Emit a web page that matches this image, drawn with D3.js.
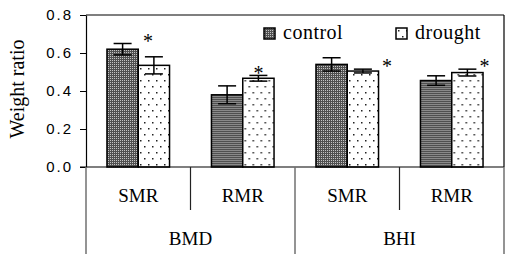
<!DOCTYPE html>
<html>
<head>
<meta charset="utf-8">
<script src="https://cdn.jsdelivr.net/npm/d3@7"></script>
<style>
  body { margin: 0; background: #fff; }
  svg { display: block; }
  .serif { font-family: "Liberation Serif", "Times New Roman", serif; fill: #000; }
  .tick text { font-family: "Liberation Sans", Arial, sans-serif; font-size: 15px; letter-spacing: 2px; fill: #000; }
</style>
</head>
<body>
<div id="chart"></div>
<script>
(function() {
  'use strict';

  // data
  var groups = ['BMD', 'BHI'];
  var categories = ['SMR', 'RMR', 'SMR', 'RMR'];
  var seriesNames = ['control', 'drought'];
  var controlValues = [0.62, 0.38, 0.54, 0.455];
  var controlErrors = [0.03, 0.047, 0.035, 0.025];
  var droughtValues = [0.535, 0.467, 0.505, 0.497];
  var droughtErrors = [0.045, 0.015, 0.01, 0.018];
  var starValues = [0.68, 0.51, 0.55, 0.55];
  var yTicks = [0, 0.2, 0.4, 0.6, 0.8];
  var yTitle = 'Weight ratio';

  var svgWidth = 506;
  var svgHeight = 254;
  var left = 86, right = 504, top = 15, bottom = 167;

  var svg = d3.select('#chart').append('svg')
      .attr('width', svgWidth)
      .attr('height', svgHeight);

  var defs = svg.append('defs');

  // control: dense dark checker
  var pc = defs.append('pattern').attr('id', 'pControl')
      .attr('patternUnits', 'userSpaceOnUse').attr('width', 2).attr('height', 2);
  pc.append('rect').attr('width', 2).attr('height', 2).attr('fill', '#505050');
  pc.append('rect').attr('width', 1).attr('height', 1).attr('fill', '#c4c4c4');

  // drought: white with sparse dots
  var pd = defs.append('pattern').attr('id', 'pDrought')
      .attr('patternUnits', 'userSpaceOnUse').attr('width', 8).attr('height', 12);
  pd.append('rect').attr('width', 8).attr('height', 12).attr('fill', '#fff');
  pd.append('rect').attr('x', 2).attr('y', 2).attr('width', 1.5).attr('height', 1.5).attr('fill', '#222');
  pd.append('rect').attr('x', 6).attr('y', 8).attr('width', 1.5).attr('height', 1.5).attr('fill', '#222');

  var fills = { control: 'url(#pControl)', drought: 'url(#pDrought)' };

  var idx = d3.range(categories.length);

  var x = d3.scaleBand().domain(idx).range([left, right]).paddingInner(0).paddingOuter(0);
  var xs = d3.scaleBand().domain(seriesNames).range([0, x.bandwidth()]).paddingInner(0).paddingOuter(0.67);
  var y = d3.scaleLinear().domain([0, 0.8]).range([bottom, top]);

  var rows = idx.map(function(i) {
    return {
      i: i,
      values: [
        { key: 'control', v: controlValues[i], e: controlErrors[i] },
        { key: 'drought', v: droughtValues[i], e: droughtErrors[i] }
      ]
    };
  });

  // frame: top and right border
  svg.append('line').attr('x1', left).attr('x2', right).attr('y1', top).attr('y2', top)
      .attr('stroke', '#000').attr('stroke-width', 1.2);
  svg.append('line').attr('x1', right).attr('x2', right).attr('y1', top).attr('y2', bottom)
      .attr('stroke', '#000').attr('stroke-width', 1.2);

  // bars
  var g = svg.selectAll('g.cat')
      .data(rows)
      .enter().append('g')
      .attr('class', 'cat')
      .attr('transform', function(d) { return 'translate(' + x(d.i) + ',0)'; });

  g.selectAll('rect')
      .data(function(d) { return d.values; })
      .enter().append('rect')
      .attr('x', function(d) { return xs(d.key); })
      .attr('y', function(d) { return y(d.v); })
      .attr('width', xs.bandwidth())
      .attr('height', function(d) { return y(0) - y(d.v); })
      .attr('fill', function(d) { return fills[d.key]; })
      .attr('stroke', '#000')
      .attr('stroke-width', 1.5);

  // error bars
  var capW = 18;
  var eb = g.selectAll('g.err')
      .data(function(d) { return d.values; })
      .enter().append('g')
      .attr('class', 'err')
      .attr('stroke', '#000')
      .attr('stroke-width', 1.5);
  eb.append('line')
      .attr('x1', function(d) { return xs(d.key) + xs.bandwidth() / 2; })
      .attr('x2', function(d) { return xs(d.key) + xs.bandwidth() / 2; })
      .attr('y1', function(d) { return y(d.v + d.e); })
      .attr('y2', function(d) { return y(d.v - d.e); });
  eb.append('line')
      .attr('x1', function(d) { return xs(d.key) + xs.bandwidth() / 2 - capW / 2; })
      .attr('x2', function(d) { return xs(d.key) + xs.bandwidth() / 2 + capW / 2; })
      .attr('y1', function(d) { return y(d.v + d.e); })
      .attr('y2', function(d) { return y(d.v + d.e); });
  eb.append('line')
      .attr('x1', function(d) { return xs(d.key) + xs.bandwidth() / 2 - capW / 2; })
      .attr('x2', function(d) { return xs(d.key) + xs.bandwidth() / 2 + capW / 2; })
      .attr('y1', function(d) { return y(d.v - d.e); })
      .attr('y2', function(d) { return y(d.v - d.e); });

  // significance stars, placed near the drought bar
  var starShift = [-6, 0, 24, 17];
  svg.selectAll('text.star')
      .data(idx)
      .enter().append('text')
      .attr('class', 'star serif')
      .attr('x', function(i) { return x(i) + xs('drought') + xs.bandwidth() / 2 + starShift[i]; })
      .attr('y', function(i) { return y(starValues[i]) + 10; })
      .attr('text-anchor', 'middle')
      .style('font-size', '20px')
      .text('*');

  // y axis
  var yAxis = d3.axisLeft(y)
      .tickValues(yTicks)
      .tickFormat(d3.format('.1f'))
      .tickSize(6)
      .tickSizeOuter(0)
      .tickPadding(7);
  var ya = svg.append('g')
      .attr('transform', 'translate(' + left + ',0)')
      .call(yAxis);
  ya.select('.domain').attr('stroke', '#000').attr('stroke-width', 1.2);
  ya.selectAll('.tick line').attr('stroke', '#000');

  svg.append('text')
      .attr('class', 'serif')
      .attr('transform', 'translate(24,89) rotate(-90)')
      .attr('text-anchor', 'middle')
      .style('font-size', '20px')
      .text(yTitle);

  // category table below the axis
  svg.append('line').attr('x1', left - 6).attr('x2', right).attr('y1', bottom).attr('y2', bottom)
      .attr('stroke', '#000').attr('stroke-width', 1.2);

  var lineCol = '#707070';
  svg.append('line').attr('x1', left).attr('x2', left).attr('y1', bottom).attr('y2', svgHeight)
      .attr('stroke', lineCol).attr('stroke-width', 1.5);
  svg.append('line').attr('x1', right).attr('x2', right).attr('y1', bottom).attr('y2', svgHeight)
      .attr('stroke', lineCol).attr('stroke-width', 1.5);

  idx.forEach(function(i) {
    if (i === 0) return;
    var long = i % 2 === 0;
    svg.append('line')
        .attr('x1', x(i)).attr('x2', x(i))
        .attr('y1', bottom).attr('y2', long ? svgHeight : bottom + 43)
        .attr('stroke', long ? lineCol : '#222')
        .attr('stroke-width', long ? 1.5 : 1.2);
  });

  svg.selectAll('text.cat')
      .data(idx)
      .enter().append('text')
      .attr('class', 'cat serif')
      .attr('x', function(i) { return x(i) + x.bandwidth() / 2; })
      .attr('y', bottom + 35)
      .attr('text-anchor', 'middle')
      .style('font-size', '19px')
      .text(function(i) { return categories[i]; });

  svg.selectAll('text.grp')
      .data(groups)
      .enter().append('text')
      .attr('class', 'grp serif')
      .attr('x', function(d, k) { return (x(k * 2) + x(k * 2 + 1) + x.bandwidth()) / 2; })
      .attr('y', bottom + 78)
      .attr('text-anchor', 'middle')
      .style('font-size', '19px')
      .text(function(d) { return d; });

  // legend
  var legendX = [264, 396];
  var lg = svg.selectAll('g.legend')
      .data(seriesNames)
      .enter().append('g')
      .attr('class', 'legend')
      .attr('transform', function(d, k) { return 'translate(' + legendX[k] + ',28)'; });
  lg.append('rect')
      .attr('width', 11).attr('height', 11)
      .attr('fill', function(d) { return fills[d]; })
      .attr('stroke', '#000').attr('stroke-width', 1.5);
  lg.append('text')
      .attr('class', 'serif')
      .attr('x', 19).attr('y', 11)
      .style('font-size', '20px')
      .style('letter-spacing', '0.5px')
      .text(function(d) { return d; });
}).call();
</script>
</body>
</html>
